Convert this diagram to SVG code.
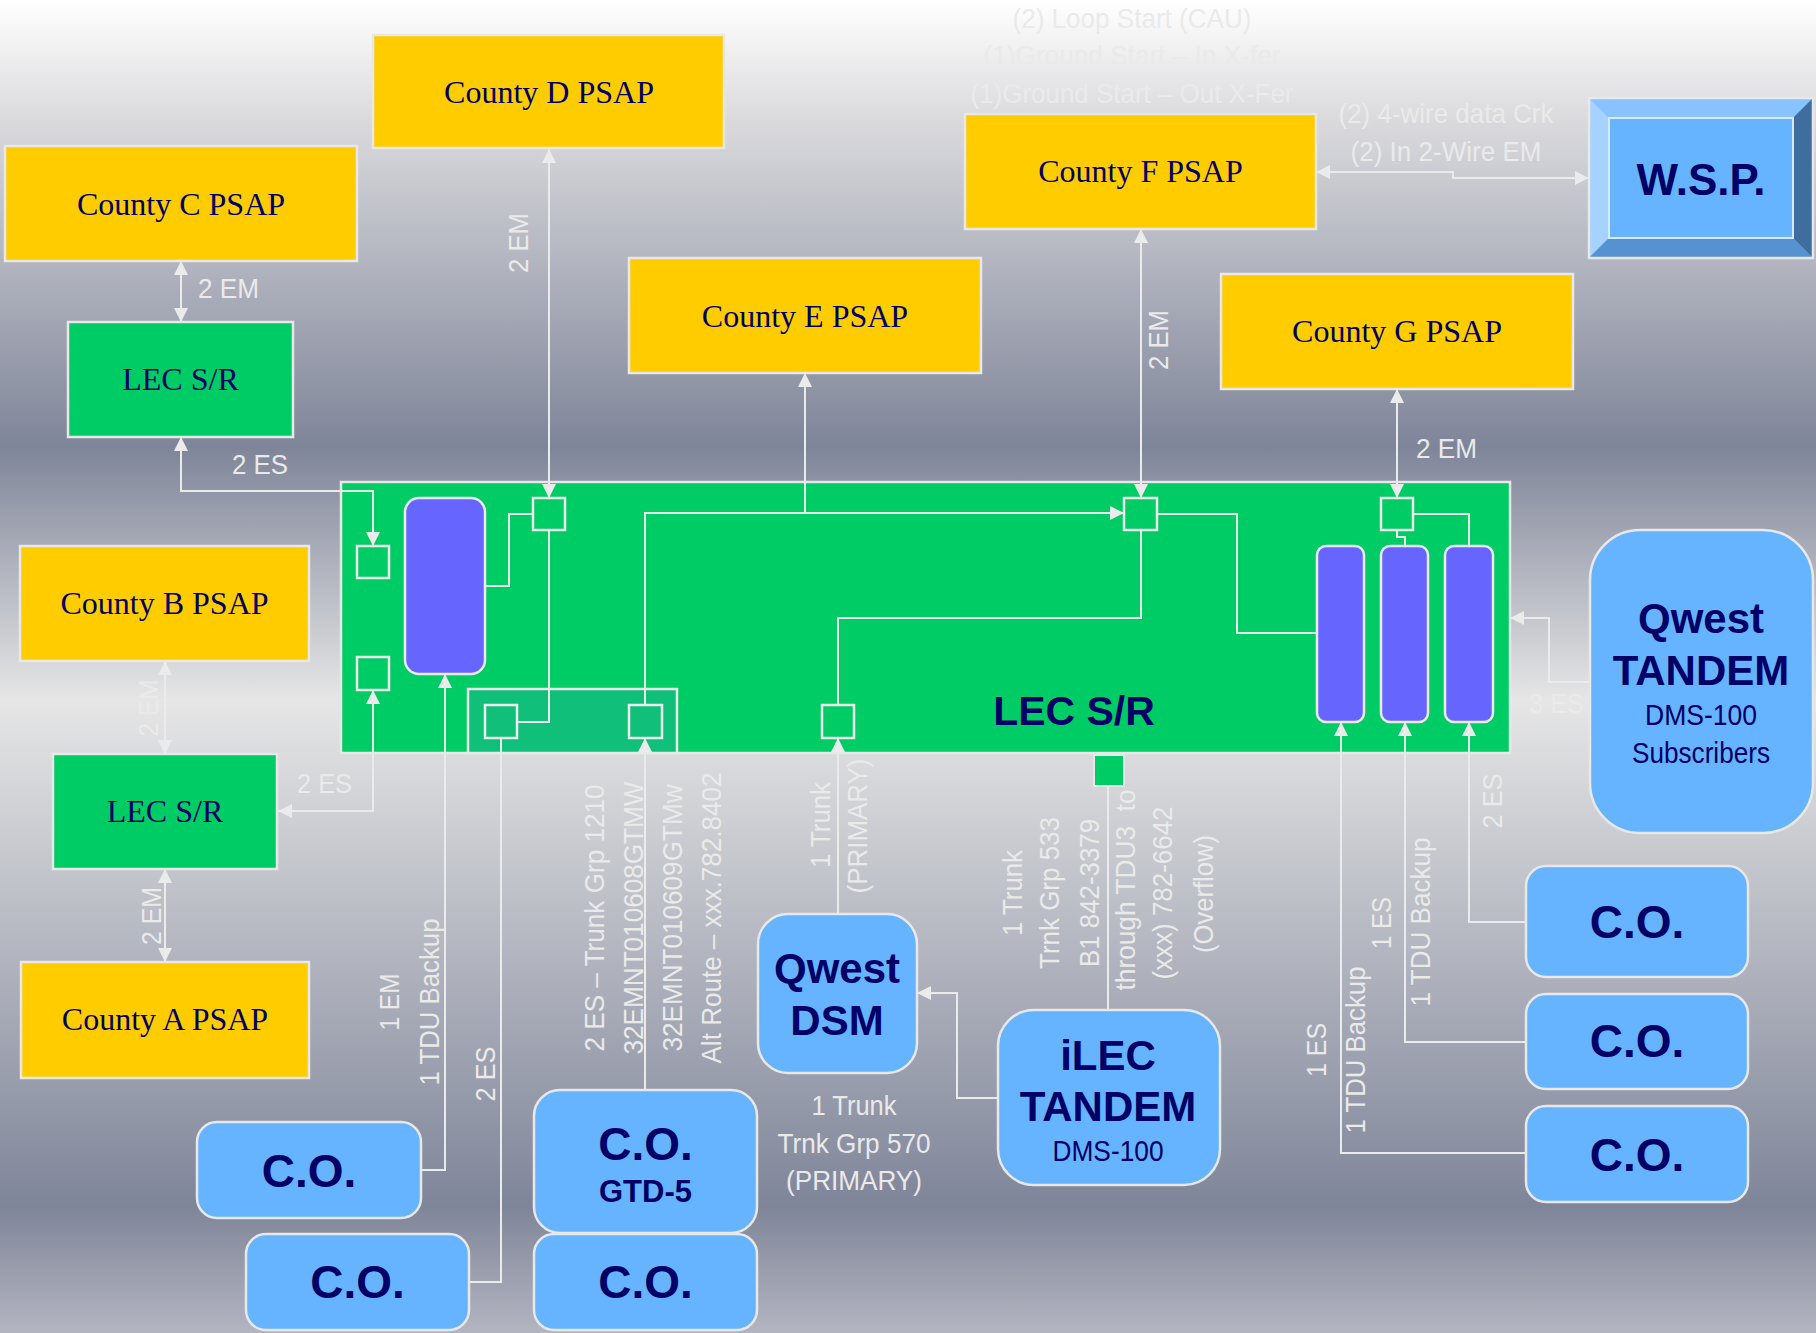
<svg xmlns="http://www.w3.org/2000/svg" width="1816" height="1333" viewBox="0 0 1816 1333">
<defs>
<linearGradient id="bg" x1="0" y1="0" x2="0" y2="1">
<stop offset="0" stop-color="#FFFFFF"/>
<stop offset="0.02" stop-color="#F7F7F7"/>
<stop offset="0.09" stop-color="#DADADD"/>
<stop offset="0.335" stop-color="#7F8599"/>
<stop offset="0.525" stop-color="#E6E6E6"/>
<stop offset="0.905" stop-color="#7F8599"/>
<stop offset="1" stop-color="#B3B5C0"/>
</linearGradient>
<marker id="ah" viewBox="0 0 10 10" refX="10" refY="5" markerUnits="userSpaceOnUse" markerWidth="14" markerHeight="14" orient="auto-start-reverse">
<path d="M0,0 L10,5 L0,10 z" fill="#EBEBEB"/>
</marker>
<style>
.ln{fill:none;stroke:#EBEBEB;stroke-width:2}
.yel{fill:#FFCC00;stroke:#E8E8E8;stroke-width:2.5}
.grn{fill:#00CC66;stroke:#E8E8E8;stroke-width:2.5}
.blu{fill:#66B3FF;stroke:#E8E8E8;stroke-width:2.5}
.pur{fill:#6666FF;stroke:#EBEBEB;stroke-width:2.5}
.sq{fill:none;stroke:#EBEBEB;stroke-width:2.5}
.sqt{fill:#10BF7A;stroke:#EBEBEB;stroke-width:2.5}
.ser{font-family:"Liberation Serif","Times New Roman",serif;font-size:32px;fill:#000066;text-anchor:middle}
.bd{font-family:"Liberation Sans",Arial,sans-serif;font-weight:bold;fill:#000066;text-anchor:middle}
.rg{font-family:"Liberation Sans",Arial,sans-serif;fill:#000066;text-anchor:middle;font-size:30px}
.lbl{font-family:"Liberation Sans",Arial,sans-serif;font-size:28px;fill:#EAEAEA}
.mid{text-anchor:middle}
</style>
</defs>
<rect x="0" y="0" width="1816" height="1333" fill="url(#bg)"/>

<!-- main LEC S/R box -->
<g id="lec-main">
<rect class="grn" x="341" y="482" width="1169" height="271"/>
<rect x="468" y="689" width="209" height="64" fill="#10BF7A" stroke="#E8E8E8" stroke-width="2.5"/>
<rect class="pur" x="405" y="498" width="80" height="176" rx="14"/>
<rect class="sq" x="357" y="546" width="32" height="32"/>
<rect class="sq" x="357" y="657" width="32" height="33"/>
<rect class="sq" x="533" y="498" width="32" height="32"/>
<rect class="sqt" x="485" y="705" width="32" height="33"/>
<rect class="sqt" x="629" y="705" width="33" height="33"/>
<rect class="sq" x="822" y="705" width="32" height="33"/>
<rect class="sq" x="1124" y="498" width="33" height="32"/>
<rect class="sq" x="1381" y="498" width="32" height="32"/>
<rect class="pur" x="1317" y="546" width="47" height="176" rx="9"/>
<rect class="pur" x="1381" y="546" width="47" height="176" rx="9"/>
<rect class="pur" x="1445" y="546" width="48" height="176" rx="9"/>
<rect x="1094" y="755" width="30" height="31" fill="#00CC66" stroke="#E8E8E8" stroke-width="2"/>
<text class="bd" x="1074" y="725" font-size="41">LEC S/R</text>
</g>

<g id="connectors">
<path class="ln" d="M549,149 V498" marker-start="url(#ah)" marker-end="url(#ah)"/>
<path class="ln" d="M181,261 V322" marker-start="url(#ah)" marker-end="url(#ah)"/>
<path class="ln" d="M181,437 V491 H373 V546" marker-start="url(#ah)" marker-end="url(#ah)"/>
<path class="ln" d="M165,661 V754" marker-start="url(#ah)" marker-end="url(#ah)"/>
<path class="ln" d="M165,869 V962" marker-start="url(#ah)" marker-end="url(#ah)"/>
<path class="ln" d="M278,811 H373 V690" marker-start="url(#ah)" marker-end="url(#ah)"/>
<path class="ln" d="M1141,229 V498" marker-start="url(#ah)" marker-end="url(#ah)"/>
<path class="ln" d="M1397,389 V498" marker-start="url(#ah)" marker-end="url(#ah)"/>
<path class="ln" d="M1316,172 H1453 V178 H1589" marker-start="url(#ah)" marker-end="url(#ah)"/>
<path class="ln" d="M485,586 H509 V514 H533"/>
<path class="ln" d="M549,530 V722 H517"/>
<path class="ln" d="M501,738 V1282 H469"/>
<path class="ln" d="M421,1170 H445 V674" marker-end="url(#ah)"/>
<path class="ln" d="M645,1090 V738" marker-end="url(#ah)"/>
<path class="ln" d="M645,705 V513 H1124" marker-end="url(#ah)"/>
<path class="ln" d="M805,513 V373" marker-end="url(#ah)"/>
<path class="ln" d="M1157,514 H1237 V633 H1317"/>
<path class="ln" d="M1141,530 V618 H838 V705"/>
<path class="ln" d="M1397,530 V537 H1405 V546"/>
<path class="ln" d="M1413,514 H1469 V546"/>
<path class="ln" d="M1526,922 H1469 V722" marker-end="url(#ah)"/>
<path class="ln" d="M1526,1042 H1405 V722" marker-end="url(#ah)"/>
<path class="ln" d="M1526,1153 H1341 V722" marker-end="url(#ah)"/>
<path class="ln" d="M838,914 V738" marker-end="url(#ah)"/>
<path class="ln" d="M1108,786 V1010"/>
<path class="ln" d="M1589,682 H1549 V618 H1510" marker-end="url(#ah)"/>
<path class="ln" d="M998,1098 H957 V993 H917" marker-end="url(#ah)"/>

<!-- connector labels -->
<g class="lbl">
<text x="198" y="298" textLength="61" lengthAdjust="spacingAndGlyphs">2 EM</text>
<text x="232" y="474" textLength="56" lengthAdjust="spacingAndGlyphs">2 ES</text>
<text x="297" y="793" textLength="55" lengthAdjust="spacingAndGlyphs">2 ES</text>
<text x="1416" y="458" textLength="61" lengthAdjust="spacingAndGlyphs">2 EM</text>
<text x="1529" y="713" textLength="55" lengthAdjust="spacingAndGlyphs">3 ES</text>
<text class="mid" x="1446" y="123" textLength="215" lengthAdjust="spacingAndGlyphs">(2) 4-wire data Crk</text>
<text class="mid" x="1446" y="161" textLength="191" lengthAdjust="spacingAndGlyphs">(2) In 2-Wire EM</text>
<text class="mid" x="1132" y="28" textLength="239" lengthAdjust="spacingAndGlyphs">(2) Loop Start (CAU)</text>
<text class="mid" x="1132" y="65" textLength="297" lengthAdjust="spacingAndGlyphs">(1)Ground Start – In X-fer</text>
<text class="mid" x="1132" y="103" textLength="323" lengthAdjust="spacingAndGlyphs">(1)Ground Start – Out X-Fer</text>
<text class="mid" x="854" y="1115" textLength="85" lengthAdjust="spacingAndGlyphs">1 Trunk</text>
<text class="mid" x="854" y="1153" textLength="153" lengthAdjust="spacingAndGlyphs">Trnk Grp 570</text>
<text class="mid" x="854" y="1190" textLength="136" lengthAdjust="spacingAndGlyphs">(PRIMARY)</text>

<text class="mid" transform="translate(528,243) rotate(-90)" textLength="60" lengthAdjust="spacingAndGlyphs">2 EM</text>
<text class="mid" transform="translate(1168,340) rotate(-90)" textLength="60" lengthAdjust="spacingAndGlyphs">2 EM</text>
<text class="mid" transform="translate(158,708) rotate(-90)" textLength="57" lengthAdjust="spacingAndGlyphs">2 EM</text>
<text class="mid" transform="translate(161,916) rotate(-90)" textLength="58" lengthAdjust="spacingAndGlyphs">2 EM</text>
<text class="mid" transform="translate(399,1002) rotate(-90)" textLength="57" lengthAdjust="spacingAndGlyphs">1 EM</text>
<text class="mid" transform="translate(439,1002) rotate(-90)" textLength="167" lengthAdjust="spacingAndGlyphs">1 TDU Backup</text>
<text class="mid" transform="translate(495,1074) rotate(-90)" textLength="55" lengthAdjust="spacingAndGlyphs">2 ES</text>
<text class="mid" transform="translate(604,918) rotate(-90)" textLength="267" lengthAdjust="spacingAndGlyphs">2 ES – Trunk Grp 1210</text>
<text class="mid" transform="translate(643,918) rotate(-90)" textLength="273" lengthAdjust="spacingAndGlyphs">32EMNT010608GTMW</text>
<text class="mid" transform="translate(682,918) rotate(-90)" textLength="267" lengthAdjust="spacingAndGlyphs">32EMNT010609GTMw</text>
<text class="mid" transform="translate(721,918) rotate(-90)" textLength="291" lengthAdjust="spacingAndGlyphs">Alt Route – xxx.782.8402</text>
<text class="mid" transform="translate(830,825) rotate(-90)" textLength="86" lengthAdjust="spacingAndGlyphs">1 Trunk</text>
<text class="mid" transform="translate(867,826) rotate(-90)" textLength="135" lengthAdjust="spacingAndGlyphs">(PRIMARY)</text>
<text class="mid" transform="translate(1022,893) rotate(-90)" textLength="86" lengthAdjust="spacingAndGlyphs">1 Trunk</text>
<text class="mid" transform="translate(1059,893) rotate(-90)" textLength="152" lengthAdjust="spacingAndGlyphs">Trnk Grp 533</text>
<text class="mid" transform="translate(1099,893) rotate(-90)" textLength="148" lengthAdjust="spacingAndGlyphs">B1 842-3379</text>
<text class="mid" transform="translate(1135,890) rotate(-90)" textLength="201" lengthAdjust="spacingAndGlyphs" xml:space="preserve">through TDU3  to</text>
<text class="mid" transform="translate(1172,893) rotate(-90)" textLength="173" lengthAdjust="spacingAndGlyphs">(xxx) 782-6642</text>
<text class="mid" transform="translate(1213,894) rotate(-90)" textLength="118" lengthAdjust="spacingAndGlyphs">(Overflow)</text>
<text class="mid" transform="translate(1502,801) rotate(-90)" textLength="55" lengthAdjust="spacingAndGlyphs">2 ES</text>
<text class="mid" transform="translate(1391,923) rotate(-90)" textLength="52" lengthAdjust="spacingAndGlyphs">1 ES</text>
<text class="mid" transform="translate(1430,922) rotate(-90)" textLength="169" lengthAdjust="spacingAndGlyphs">1 TDU Backup</text>
<text class="mid" transform="translate(1326,1050) rotate(-90)" textLength="54" lengthAdjust="spacingAndGlyphs">1 ES</text>
<text class="mid" transform="translate(1365,1050) rotate(-90)" textLength="167" lengthAdjust="spacingAndGlyphs">1 TDU Backup</text>
</g>
</g>

<g id="county-d"><rect class="yel" x="373" y="35" width="351" height="113"/><text class="ser" x="549" y="103">County D PSAP</text></g>
<g id="county-c"><rect class="yel" x="5" y="146" width="352" height="115"/><text class="ser" x="181" y="215">County C PSAP</text></g>
<g id="lec-c"><rect class="grn" x="68" y="322" width="225" height="115"/><text class="ser" x="180.5" y="390">LEC S/R</text></g>
<g id="county-e"><rect class="yel" x="629" y="258" width="352" height="115"/><text class="ser" x="805" y="327">County E PSAP</text></g>
<g id="county-f"><rect class="yel" x="965" y="114" width="351" height="115"/><text class="ser" x="1140.5" y="182">County F PSAP</text></g>
<g id="county-g"><rect class="yel" x="1221" y="274" width="352" height="115"/><text class="ser" x="1397" y="342">County G PSAP</text></g>
<g id="county-b"><rect class="yel" x="20" y="546" width="289" height="115"/><text class="ser" x="164.5" y="614">County B PSAP</text></g>
<g id="lec-ab"><rect class="grn" x="53" y="754" width="224" height="115"/><text class="ser" x="165" y="822">LEC S/R</text></g>
<g id="county-a"><rect class="yel" x="21" y="962" width="288" height="116"/><text class="ser" x="165" y="1030">County A PSAP</text></g>

<g id="wsp">
<rect x="1589" y="98" width="224" height="160" fill="#66B3FF"/>
<polygon points="1589,98 1813,98 1793,118 1609,118" fill="#88C2FF"/>
<polygon points="1589,98 1609,118 1609,238 1589,258" fill="#A6D2FF"/>
<polygon points="1813,98 1813,258 1793,238 1793,118" fill="#3F6D9E"/>
<polygon points="1589,258 1609,238 1793,238 1813,258" fill="#5592CF"/>
<rect x="1609" y="118" width="184" height="120" fill="#66B3FF" stroke="#D8E8F8" stroke-width="2"/>
<rect x="1589" y="98" width="224" height="160" fill="none" stroke="#E8E8E8" stroke-width="2.5"/>
<text class="bd" x="1701" y="195" font-size="44">W.S.P.</text>
</g>

<g id="qwest-tandem">
<rect class="blu" x="1590" y="530" width="223" height="303" rx="50"/>
<text class="bd" x="1701" y="633" font-size="42">Qwest</text>
<text class="bd" x="1701" y="685" font-size="42">TANDEM</text>
<text class="rg" x="1701" y="725" textLength="112" lengthAdjust="spacingAndGlyphs">DMS-100</text>
<text class="rg" x="1701" y="763" textLength="138" lengthAdjust="spacingAndGlyphs">Subscribers</text>
</g>

<g id="qwest-dsm">
<rect class="blu" x="758" y="914" width="159" height="159" rx="30"/>
<text class="bd" x="837" y="983" font-size="42">Qwest</text>
<text class="bd" x="837" y="1035" font-size="42">DSM</text>
</g>

<g id="ilec-tandem">
<rect class="blu" x="998" y="1010" width="222" height="175" rx="36"/>
<text class="bd" x="1108" y="1070" font-size="42">iLEC</text>
<text class="bd" x="1108" y="1121" font-size="42">TANDEM</text>
<text class="rg" x="1108" y="1161" textLength="111" lengthAdjust="spacingAndGlyphs">DMS-100</text>
</g>

<g id="co-1"><rect class="blu" x="197" y="1122" width="224" height="96" rx="20"/><text class="bd" x="309" y="1187" font-size="46">C.O.</text></g>
<g id="co-2"><rect class="blu" x="246" y="1234" width="223" height="96" rx="20"/><text class="bd" x="357.5" y="1298" font-size="46">C.O.</text></g>
<g id="co-gtd5"><rect class="blu" x="534" y="1090" width="223" height="143" rx="26"/><text class="bd" x="645.5" y="1160" font-size="46">C.O.</text><text class="bd" x="645.5" y="1202" font-size="31">GTD-5</text></g>
<g id="co-3"><rect class="blu" x="534" y="1234" width="223" height="96" rx="20"/><text class="bd" x="645.5" y="1298" font-size="46">C.O.</text></g>
<g id="co-r1"><rect class="blu" x="1526" y="866" width="222" height="111" rx="20"/><text class="bd" x="1637" y="938" font-size="46">C.O.</text></g>
<g id="co-r2"><rect class="blu" x="1526" y="994" width="222" height="95" rx="20"/><text class="bd" x="1637" y="1057" font-size="46">C.O.</text></g>
<g id="co-r3"><rect class="blu" x="1526" y="1106" width="222" height="96" rx="20"/><text class="bd" x="1637" y="1171" font-size="46">C.O.</text></g>
</svg>
